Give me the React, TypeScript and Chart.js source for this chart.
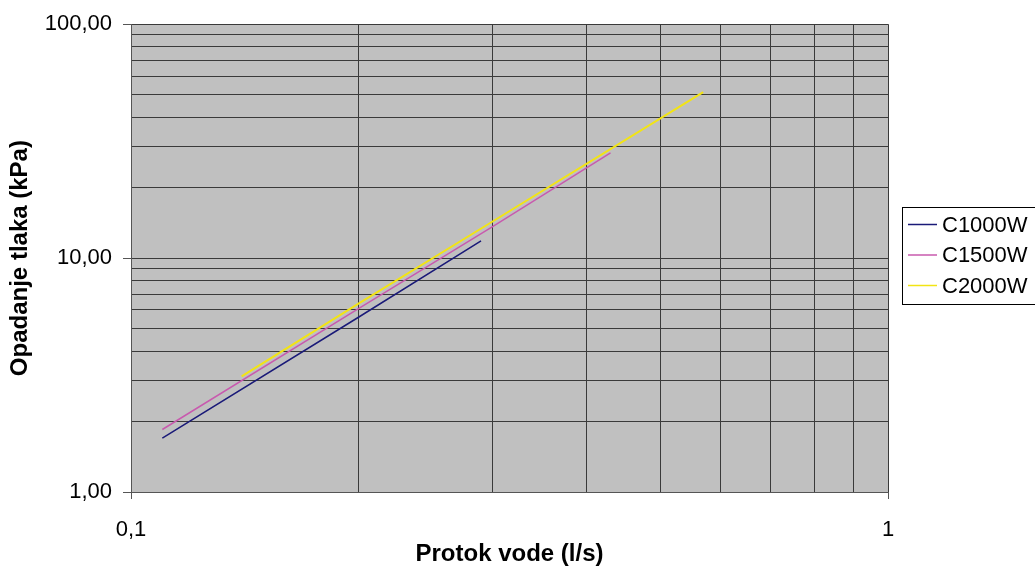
import React, { useEffect, useRef } from 'react';
import { Chart, registerables } from 'chart.js';

Chart.register(...registerables);

const FONT = '"Liberation Sans", Arial, Helvetica, sans-serif';

const seriesNames = ['C1000W', 'C1500W', 'C2000W'];
const seriesColors = ['#1a1a78', '#c85aae', '#f2e414'];

const c1000wFlow = [0.11, 0.2, 0.29];
const c1000wDrop = [1.7, 5.6, 11.85];
const c1500wFlow = [0.11, 0.2, 0.3, 0.43];
const c1500wDrop = [1.85, 6.1, 13.6, 28.2];
const c2000wFlow = [0.14, 0.2, 0.3, 0.57];
const c2000wDrop = [3.12, 6.4, 14.3, 51.2];

const xTickValues = [0.1, 0.2, 0.3, 0.4, 0.5, 0.6, 0.7, 0.8, 0.9, 1];
const xMajorValues = [0.1, 1];
const xMajorLabels = ['0,1', '1'];

const yTickValues = [1, 2, 3, 4, 5, 6, 7, 8, 9, 10, 20, 30, 40, 50, 60, 70, 80, 90, 100];
const yMajorValues = [1, 10, 100];
const yMajorLabels = ['1,00', '10,00', '100,00'];

const xTitle = 'Protok vode (l/s)';
const yTitle = 'Opadanje tlaka (kPa)';

const majorIndex = (v: number, majors: number[]) =>
  majors.findIndex((m) => Math.abs(m - v) < 1e-9);

const plotBackground = {
  id: 'plotBackground',
  beforeDraw(chart: any) {
    const { ctx, chartArea } = chart;
    ctx.save();
    ctx.fillStyle = '#c0c0c0';
    ctx.fillRect(chartArea.left, chartArea.top, chartArea.right - chartArea.left, chartArea.bottom - chartArea.top);
    ctx.restore();
  },
};

const boxLegend = {
  id: 'boxLegend',
  afterDraw(chart: any) {
    const { ctx } = chart;
    const datasets = chart.data.datasets;
    const left = 902;
    const top = 207;
    const rowGap = 30.5;
    const firstRow = 224.5;
    ctx.save();
    ctx.fillStyle = '#ffffff';
    ctx.fillRect(left, top, 200, 97);
    ctx.strokeStyle = '#000000';
    ctx.lineWidth = 1;
    ctx.strokeRect(left + 0.5, top + 0.5, 200, 97);
    ctx.font = `22px ${FONT}`;
    ctx.textBaseline = 'middle';
    ctx.textAlign = 'left';
    datasets.forEach((ds: any, i: number) => {
      const y = firstRow + i * rowGap;
      ctx.strokeStyle = ds.borderColor;
      ctx.lineWidth = 1.5;
      ctx.beginPath();
      ctx.moveTo(908, y);
      ctx.lineTo(937, y);
      ctx.stroke();
      ctx.fillStyle = '#000000';
      ctx.fillText(ds.label, 942, y + 1);
    });
    ctx.restore();
  },
};

export default function App() {
  const canvasRef = useRef<HTMLCanvasElement | null>(null);

  useEffect(() => {
    if (!canvasRef.current) return;
    const flows = [c1000wFlow, c1500wFlow, c2000wFlow];
    const drops = [c1000wDrop, c1500wDrop, c2000wDrop];
    const chart = new Chart(canvasRef.current, {
      type: 'line',
      data: {
        datasets: seriesNames.map((name, i) => ({
          label: name,
          data: flows[i].map((x, j) => ({ x, y: drops[i][j] })),
          borderColor: seriesColors[i],
          backgroundColor: seriesColors[i],
          borderWidth: i === 2 ? 2 : 1.5,
          pointRadius: 0,
          fill: false,
          tension: 0,
          order: 3 - i,
        })),
      },
      options: {
        animation: false,
        responsive: false,
        devicePixelRatio: 1,
        layout: { padding: { top: 23, right: 147, left: 0, bottom: 0 } },
        plugins: {
          legend: { display: false },
          tooltip: { enabled: false },
          title: { display: false },
        },
        scales: {
          x: {
            type: 'logarithmic',
            min: 0.1,
            max: 1,
            afterBuildTicks: (scale: any) => {
              scale.ticks = xTickValues.map((v) => ({ value: v, major: majorIndex(v, xMajorValues) >= 0 }));
            },
            afterFit: (scale: any) => {
              scale.height = 84;
            },
            ticks: {
              autoSkip: false,
              maxRotation: 0,
              minRotation: 0,
              padding: 18,
              color: '#000000',
              font: { family: FONT, size: 22 },
              callback: (value: any) => {
                const k = majorIndex(Number(value), xMajorValues);
                return k >= 0 ? xMajorLabels[k] : '';
              },
            },
            grid: {
              color: '#3a3a3a',
              lineWidth: 1,
              drawTicks: true,
              tickLength: 7,
              tickColor: (ctx: any) =>
                ctx.tick && majorIndex(ctx.tick.value, xMajorValues) >= 0 ? '#555555' : 'rgba(0,0,0,0)',
            },
            border: { display: true, color: '#555555', width: 1 },
            title: {
              display: true,
              text: xTitle,
              color: '#000000',
              font: { family: FONT, size: 24, weight: 'bold' },
              padding: { top: 0, bottom: 7 },
            },
          },
          y: {
            type: 'logarithmic',
            min: 1,
            max: 100,
            afterBuildTicks: (scale: any) => {
              scale.ticks = yTickValues.map((v) => ({ value: v, major: majorIndex(v, yMajorValues) >= 0 }));
            },
            afterFit: (scale: any) => {
              scale.width = 131;
            },
            ticks: {
              autoSkip: false,
              padding: 11,
              color: '#000000',
              font: { family: FONT, size: 22 },
              callback: (value: any) => {
                const k = majorIndex(Number(value), yMajorValues);
                return k >= 0 ? yMajorLabels[k] : '';
              },
            },
            grid: {
              color: '#3a3a3a',
              lineWidth: 1,
              drawTicks: true,
              tickLength: 8,
              tickColor: (ctx: any) =>
                ctx.tick && majorIndex(ctx.tick.value, yMajorValues) >= 0 ? '#555555' : 'rgba(0,0,0,0)',
            },
            border: { display: true, color: '#555555', width: 1 },
            title: {
              display: true,
              text: yTitle,
              color: '#000000',
              font: { family: FONT, size: 24, weight: 'bold' },
              padding: { top: 6, bottom: 0 },
            },
          },
        },
      } as any,
      plugins: [plotBackground, boxLegend],
    });
    return () => chart.destroy();
  }, []);

  return (
    <div style={{ position: 'fixed', left: 0, top: 0, width: 1035, height: 576, background: '#ffffff' }}>
      <canvas ref={canvasRef} width={1035} height={576} style={{ display: 'block', width: 1035, height: 576 }} />
    </div>
  );
}
